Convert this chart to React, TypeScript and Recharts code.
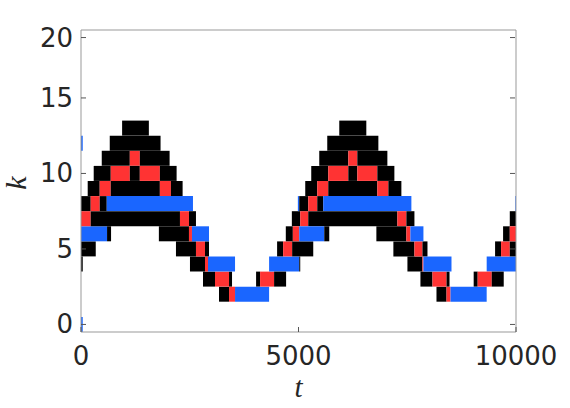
import React from 'react';
import { BarChart, Bar, XAxis, YAxis, Cell } from 'recharts';

// rows of the raster (k) and axis ticks
const kValues = [0, 1, 2, 3, 4, 5, 6, 7, 8, 9, 10, 11, 12, 13, 14, 15, 16, 17, 18, 19];
const tTicks = [0, 5000, 10000];
const kTicks = [0, 5, 10, 15, 19];
const kTickLabels = ['0', '5', '10', '15', '20'];

// cells as [k, tStart, tEnd]
const blackCells: [number, number, number][] = [
  [2, 3173, 3403], [2, 8172, 8403],
  [3, 2804, 3080], [3, 3403, 3472], [3, 4025, 4117], [3, 4439, 4715],
  [3, 7803, 8080], [3, 8403, 8472], [3, 9027, 9119], [3, 9442, 9718],
  [4, 0, 40], [4, 2505, 2850], [4, 5017, 5040], [4, 7504, 7849],
  [5, 0, 339], [5, 2183, 2643], [5, 2850, 2943], [5, 4508, 4647], [5, 4854, 5339],
  [5, 7181, 7665], [5, 7849, 7965], [5, 9519, 9657], [5, 9857, 10000],
  [6, 599, 691], [6, 1790, 2482], [6, 4708, 4870], [6, 5592, 5707], [6, 6790, 7480], [6, 9703, 9857],
  [7, 223, 2275], [7, 2482, 2643], [7, 4847, 5040], [7, 5224, 7273], [7, 7480, 7665], [7, 9857, 10000],
  [8, 0, 223], [8, 430, 592], [8, 5017, 5224], [8, 5431, 5569],
  [9, 154, 430], [9, 684, 1813], [9, 2067, 2336], [9, 5155, 5431], [9, 5684, 6812], [9, 7066, 7365],
  [10, 292, 684], [10, 1122, 1352], [10, 1813, 2198], [10, 5293, 5684], [10, 6145, 6352], [10, 6812, 7204],
  [11, 477, 1122], [11, 1352, 2037], [11, 5477, 6145], [11, 6352, 7043],
  [12, 661, 1829], [12, 5661, 6836],
  [13, 945, 1560], [13, 5937, 6559],
];

const redCells: [number, number, number][] = [
  [2, 3403, 3541], [2, 8403, 8495],
  [3, 3080, 3403], [3, 4117, 4439], [3, 8080, 8403], [3, 9119, 9442],
  [4, 2850, 2920], [4, 7849, 7872],
  [5, 2643, 2850], [5, 4647, 4854], [5, 7665, 7849], [5, 9657, 9857],
  [6, 2482, 2551], [6, 4870, 5017], [6, 7480, 7572], [6, 9857, 10000],
  [7, 0, 223], [7, 2275, 2482], [7, 5040, 5224], [7, 7273, 7480],
  [8, 223, 430], [8, 5224, 5431],
  [9, 430, 684], [9, 1813, 2067], [9, 5431, 5684], [9, 6812, 7066],
  [10, 684, 1122], [10, 1352, 1813], [10, 5684, 6145], [10, 6352, 6812],
  [11, 1122, 1352], [11, 6145, 6352],
];

const blueCells: [number, number, number][] = [
  [0, 0, 40],
  [2, 3541, 4324], [2, 8495, 9326],
  [4, 2920, 3541], [4, 4324, 5017], [4, 7872, 8517], [4, 9326, 10000],
  [6, 0, 599], [6, 2551, 2943], [6, 5017, 5592], [6, 7572, 7872],
  [8, 592, 2574], [8, 4985, 5017], [8, 5569, 7595], [8, 9985, 10000],
  [12, 0, 40],
];

const BLACK = '#000000';
const RED = '#ff3333';
const BLUE = '#1a66ff';
const AXIS = '#999999';
const TEXT = '#262626';

const allCells = [
  ...blackCells.map(([k, s, e]) => ({ k, s, e, fill: BLACK })),
  ...redCells.map(([k, s, e]) => ({ k, s, e, fill: RED })),
  ...blueCells.map(([k, s, e]) => ({ k, s, e, fill: BLUE })),
];

// each row becomes a stack of lengths: gaps (no fill) and coloured cells
const pieces = kValues.map((k) => {
  const cells = allCells.filter((c) => c.k === k).sort((a, b) => a.s - b.s);
  const out: { len: number; fill: string }[] = [];
  let pos = 0;
  cells.forEach((c) => {
    const s = Math.max(c.s, pos);
    if (s > pos) out.push({ len: s - pos, fill: 'none' });
    if (c.e > s) out.push({ len: c.e - s, fill: c.fill });
    pos = Math.max(pos, c.e);
  });
  return out;
});
const maxPieces = Math.max(...pieces.map((p) => p.length));
const rows = kValues.map((k, i) => {
  const row: Record<string, number> = { k };
  pieces[i].forEach((p, j) => {
    row[`p${j}`] = p.len;
  });
  return row;
});

const font = { fontFamily: 'DejaVu Sans', fontSize: 26, fill: TEXT };

const LeftTick = (props: any) => {
  const { x, y, payload } = props;
  const idx = kTicks.indexOf(payload.value);
  if (idx < 0) return <g />;
  return (
    <g>
      <line x1={x + 8} x2={x + 13} y1={y} y2={y} stroke="#555" />
      <text x={x} y={y} dy={9} textAnchor="end" {...font}>
        {kTickLabels[idx]}
      </text>
    </g>
  );
};

const RightTick = (props: any) => {
  const { x, y, payload } = props;
  if (kTicks.indexOf(payload.value) < 0) return <g />;
  return <line x1={x - 6} x2={x - 1} y1={y} y2={y} stroke="#555" />;
};

const BottomTick = (props: any) => {
  const { x, y, payload } = props;
  return (
    <g>
      <line x1={x} x2={x} y1={y - 13} y2={y - 18} stroke="#555" />
      <text x={x} y={y} dy={20} textAnchor="middle" {...font}>
        {payload.value}
      </text>
    </g>
  );
};

const TopTick = (props: any) => {
  const { x, y } = props;
  return <line x1={x} x2={x} y1={y + 1} y2={y + 6} stroke="#555" />;
};

const tLabel = (props: any) => {
  const vb = props.viewBox;
  return (
    <text x={vb.x + vb.width / 2} y={vb.y + 65} textAnchor="middle"
      fontFamily="Liberation Serif" fontStyle="italic" fontSize={29} fill={TEXT}>
      t
    </text>
  );
};

const kLabel = (props: any) => {
  const vb = props.viewBox;
  const cx = vb.x + 26;
  const cy = vb.y + vb.height / 2 + 2;
  return (
    <g transform={`translate(${cx}, ${cy}) rotate(-90)`}>
      <text x={0} y={0} textAnchor="middle"
        fontFamily="Liberation Serif" fontStyle="italic" fontSize={30} fill={TEXT}>
        k
      </text>
    </g>
  );
};

const App = () => {
  return (
    <div style={{ position: 'absolute', left: 0, top: 0 }}>
      <BarChart
        width={570}
        height={408}
        data={rows}
        layout="vertical"
        margin={{ top: 29, right: 53, bottom: 0, left: 0 }}
        barCategoryGap={0}
        barGap={0}
      >
        <XAxis
          type="number"
          domain={[0, 10000]}
          ticks={tTicks}
          interval={0}
          allowDataOverflow
          height={76}
          tickSize={0}
          tickMargin={13}
          axisLine={{ stroke: AXIS }}
          tick={<BottomTick />}
          label={tLabel}
        />
        <XAxis
          xAxisId="top"
          orientation="top"
          type="number"
          domain={[0, 10000]}
          ticks={tTicks}
          interval={0}
          height={1}
          tickSize={0}
          tickMargin={0}
          axisLine={{ stroke: AXIS }}
          tick={<TopTick />}
        />
        <YAxis
          type="category"
          dataKey="k"
          reversed
          interval={0}
          width={81}
          tickSize={0}
          tickMargin={8}
          axisLine={{ stroke: AXIS }}
          tick={<LeftTick />}
          label={kLabel}
        />
        <YAxis
          yAxisId="right"
          orientation="right"
          type="category"
          dataKey="k"
          reversed
          interval={0}
          width={1}
          tickSize={0}
          tickMargin={0}
          axisLine={{ stroke: AXIS }}
          tick={<RightTick />}
        />
        {Array.from({ length: maxPieces }, (_, i) => (
          <Bar key={i} dataKey={`p${i}`} stackId="cells" isAnimationActive={false}>
            {pieces.map((p, r) => (
              <Cell key={r} fill={p[i] ? p[i].fill : 'none'} />
            ))}
          </Bar>
        ))}
      </BarChart>
    </div>
  );
};

export default App;
